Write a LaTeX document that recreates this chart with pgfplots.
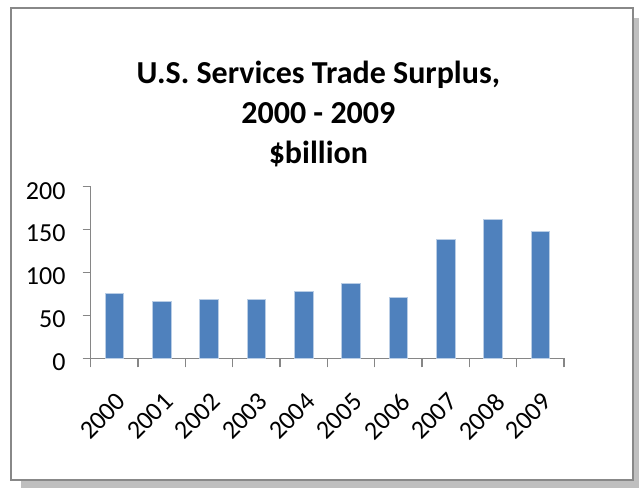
\documentclass[border=0pt]{standalone}
\usepackage{fontspec}
\setmainfont{Carlito}
\usepackage{pgfplots}
\pgfplotsset{compat=1.18}

\definecolor{barblue}{RGB}{79,129,189}
\definecolor{baredge}{RGB}{185,205,229}
\definecolor{axisgray}{RGB}{134,134,134}
\definecolor{framegray}{RGB}{136,136,136}
\definecolor{shadowgray}{RGB}{191,191,191}

\begin{document}
\begin{tikzpicture}
  \useasboundingbox (0,0) rectangle (640pt,491pt);
  % chart area with drop shadow
  \fill[shadowgray] (21pt,3pt) rectangle (639pt,473pt);
  \filldraw[fill=white, draw=framegray, line width=1.5pt] (11pt,11pt) rectangle (633pt,483pt);

  \begin{axis}[
      at={(90.7pt,132.7pt)}, anchor=south west,
      scale only axis,
      width=473.3pt, height=171.6pt,
      xmin=-0.5, xmax=9.5,
      ymin=0, ymax=200,
      axis x line*=bottom, axis y line*=left,
      axis line style={axisgray, line width=1.3pt},
      tick align=outside,
      tick style={axisgray, line width=1.3pt},
      major tick length=8pt,
      minor tick length=9pt,
      xtick={0,...,9},
      major x tick style={draw=none},
      minor xtick={-0.5,0.5,...,9.5},
      xticklabels={2000,2001,2002,2003,2004,2005,2006,2007,2008,2009},
      ytick={0,50,100,150,200},
      /pgf/number format/assume math mode=true,
      ticklabel style={font=\fontsize{26}{30}\selectfont, inner sep=0pt},
      yticklabel style={xshift=-17pt, yshift=-4pt},
      xticklabel style={xshift=1pt, yshift=-25pt, rotate=45, anchor=north east},
      title={U.S. Services Trade Surplus,\\2000 - 2009\\\$billion},
      title style={at={(0.481,1)}, anchor=south, align=center,
        font=\fontsize{32}{40}\selectfont\bfseries, inner sep=0pt, yshift=14pt},
      ybar, bar width=18.5pt,
    ]
    \addplot[fill=barblue, draw=baredge, line width=0.6pt]
      coordinates {(0,76) (1,66) (2,69) (3,69) (4,78)
                   (5,87) (6,71) (7,139) (8,162) (9,148)};
  \end{axis}
\end{tikzpicture}
\end{document}
